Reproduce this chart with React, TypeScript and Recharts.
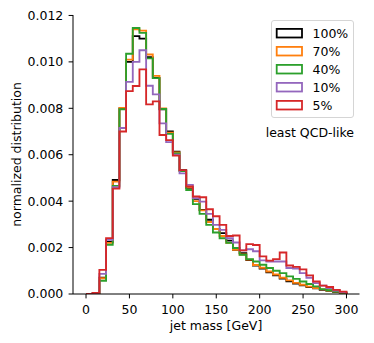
import React from 'react';
import { ComposedChart, Line, XAxis, YAxis, Legend } from 'recharts';

const FONT = '"DejaVu Sans", sans-serif';
const FS = 12.5;

const X_MIN = 0;
const X_MAX = 300;
const N_BINS = 39;

const xTicks = [0, 50, 100, 150, 200, 250, 300];
const yTicks = [0, 0.002, 0.004, 0.006, 0.008, 0.01, 0.012];

const seriesNames = ['100%', '70%', '40%', '10%', '5%'];
const seriesColors = ['#000000', '#ff7f0e', '#2ca02c', '#9467bd', '#d62728'];

const frac100 = [0, 0.00004, 0.0007, 0.00224, 0.00491, 0.008, 0.01, 0.01111, 0.011, 0.0102, 0.00931, 0.00796, 0.007, 0.00613, 0.00534, 0.00457, 0.0041, 0.00362, 0.0032, 0.0028, 0.00262, 0.0023, 0.0019, 0.00176, 0.00146, 0.00122, 0.0011, 0.00093, 0.0008, 0.00066, 0.00055, 0.00045, 0.00037, 0.0003, 0.00024, 0.00018, 0.00014, 0.00008, 0.00005];
const frac70 = [0, 0.00004, 0.00068, 0.0022, 0.00484, 0.00802, 0.0101, 0.0114, 0.01135, 0.01032, 0.0094, 0.008, 0.00695, 0.0061, 0.0053, 0.0046, 0.004, 0.0036, 0.0031, 0.0028, 0.0025, 0.0022, 0.0019, 0.0017, 0.00148, 0.00125, 0.00113, 0.00097, 0.00084, 0.0007, 0.00059, 0.00048, 0.0004, 0.00032, 0.00025, 0.0002, 0.00015, 0.0001, 0.00005];
const frac40 = [0, 0.00003, 0.00057, 0.00212, 0.00466, 0.00796, 0.01035, 0.01146, 0.01125, 0.01015, 0.0093, 0.00797, 0.0069, 0.00606, 0.0053, 0.00448, 0.00387, 0.00345, 0.00298, 0.00265, 0.0024, 0.0022, 0.00198, 0.00169, 0.0015, 0.0014, 0.00126, 0.00112, 0.001, 0.0009, 0.00076, 0.00065, 0.00054, 0.00043, 0.00033, 0.00021, 0.00016, 0.0001, 0.00006];
const frac10 = [0, 0.00005, 0.00087, 0.00233, 0.0046, 0.00715, 0.00914, 0.01, 0.0105, 0.00897, 0.0086, 0.00735, 0.00654, 0.006, 0.0052, 0.0047, 0.00413, 0.00398, 0.00345, 0.00298, 0.00276, 0.0024, 0.00222, 0.00188, 0.00193, 0.00184, 0.00145, 0.0014, 0.0014, 0.0014, 0.00112, 0.0011, 0.0009, 0.0007, 0.00047, 0.00036, 0.00026, 0.00015, 0.00008];
const frac5 = [0, 0.00005, 0.00104, 0.00241, 0.00454, 0.007, 0.00874, 0.00896, 0.00968, 0.00817, 0.0083, 0.00685, 0.00663, 0.00596, 0.00534, 0.00463, 0.0042, 0.00417, 0.00365, 0.00335, 0.00298, 0.0025, 0.00252, 0.00188, 0.00215, 0.00211, 0.00162, 0.00144, 0.0015, 0.00179, 0.00123, 0.00117, 0.00106, 0.0008, 0.00054, 0.00036, 0.0003, 0.00018, 0.0001];

const seriesValues = [frac100, frac70, frac40, frac10, frac5];
const keys = ['s0', 's1', 's2', 's3', 's4'];

const binWidth = (X_MAX - X_MIN) / N_BINS;

function buildData() {
  const rows: any[] = [];
  const start: any = { x: X_MIN };
  keys.forEach((k) => (start[k] = 0));
  rows.push(start);
  for (let i = 0; i < N_BINS; i++) {
    const r: any = { x: X_MIN + i * binWidth };
    keys.forEach((k, j) => (r[k] = seriesValues[j][i]));
    rows.push(r);
  }
  const endTop: any = { x: X_MAX };
  keys.forEach((k, j) => (endTop[k] = seriesValues[j][N_BINS - 1]));
  rows.push(endTop);
  const endBottom: any = { x: X_MAX };
  keys.forEach((k) => (endBottom[k] = 0));
  rows.push(endBottom);
  return rows;
}

const data = buildData();

const renderLegend = () => (
  <div style={{ position: 'relative', width: 110, height: 125, fontFamily: FONT, fontSize: FS, color: '#000' }}>
    <div
      style={{
        position: 'absolute',
        left: 21,
        top: 0,
        width: 83.3,
        height: 98,
        boxSizing: 'border-box',
        border: '1px solid #d5d5d5',
        borderRadius: 3,
        background: 'rgba(255,255,255,0.8)',
      }}
    >
      <svg width={34} height={98} style={{ position: 'absolute', left: 0, top: 0, overflow: 'visible' }}>
        {seriesNames.map((n, i) => (
          <rect
            key={n}
            x={4.7}
            y={7.9 + 18 * i}
            width={25.3}
            height={8.6}
            fill="none"
            stroke={seriesColors[i]}
            strokeWidth={1.8}
          />
        ))}
      </svg>
      {seriesNames.map((n, i) => (
        <div
          key={n}
          style={{ position: 'absolute', left: 40.5, top: 3.7 + 18 * i, lineHeight: '18px', whiteSpace: 'nowrap' }}
        >
          {n}
        </div>
      ))}
    </div>
    <div style={{ position: 'absolute', right: 6, top: 104, lineHeight: '18px', whiteSpace: 'nowrap' }}>least QCD-like</div>
  </div>
);

const YLabel = () => (
  <text
    transform="translate(20.5, 154.5) rotate(-90)"
    x={0}
    y={0}
    textAnchor="middle"
    fontFamily={FONT}
    fontSize={FS}
    fill="#000"
  >
    normalized distribution
  </text>
);

const XLabel = () => (
  <text x={216} y={330} textAnchor="middle" fontFamily={FONT} fontSize={FS} fill="#000">
    jet mass [GeV]
  </text>
);

export default function App() {
  return (
    <div style={{ position: 'absolute', left: 0, top: 0, width: 374, height: 343, background: '#fff' }}>
      <ComposedChart width={374} height={343} data={data} margin={{ top: 15, right: 14.5, left: 0, bottom: 0 }}>
        <XAxis
          dataKey="x"
          type="number"
          domain={[-15, 315]}
          ticks={xTicks}
          allowDataOverflow
          height={49}
          tickSize={4.4}
          tickMargin={6.6}
          axisLine={{ stroke: '#000', strokeWidth: 1 }}
          tickLine={{ stroke: '#000', strokeWidth: 1 }}
          tick={{ fill: '#000', fontFamily: FONT, fontSize: FS }}
          label={<XLabel />}
        />
        <XAxis
          xAxisId="top"
          orientation="top"
          type="number"
          dataKey="x"
          domain={[-15, 315]}
          height={0}
          tick={false}
          tickLine={false}
          axisLine={{ stroke: '#000', strokeWidth: 1 }}
        />
        <YAxis
          type="number"
          domain={[0, 0.01202]}
          ticks={yTicks}
          allowDataOverflow
          width={73}
          tickSize={4.4}
          tickMargin={5.3}
          tickFormatter={(v: number) => v.toFixed(3)}
          axisLine={{ stroke: '#000', strokeWidth: 1 }}
          tickLine={{ stroke: '#000', strokeWidth: 1 }}
          tick={{ fill: '#000', fontFamily: FONT, fontSize: FS }}
          label={<YLabel />}
        />
        <YAxis
          yAxisId="right"
          orientation="right"
          type="number"
          domain={[0, 0.01202]}
          width={0}
          tick={false}
          tickLine={false}
          axisLine={{ stroke: '#000', strokeWidth: 1 }}
        />
        {keys.map((k, i) => (
          <Line
            key={k}
            dataKey={k}
            name={seriesNames[i]}
            type="stepAfter"
            stroke={seriesColors[i]}
            strokeWidth={1.85}
            dot={false}
            activeDot={false}
            isAnimationActive={false}
            strokeLinejoin="miter"
          />
        ))}
        <Legend
          layout="vertical"
          align="center"
          verticalAlign="middle"
          content={renderLegend}
          wrapperStyle={{ left: 250, top: 20, width: 110, height: 125 }}
        />
      </ComposedChart>
    </div>
  );
}
